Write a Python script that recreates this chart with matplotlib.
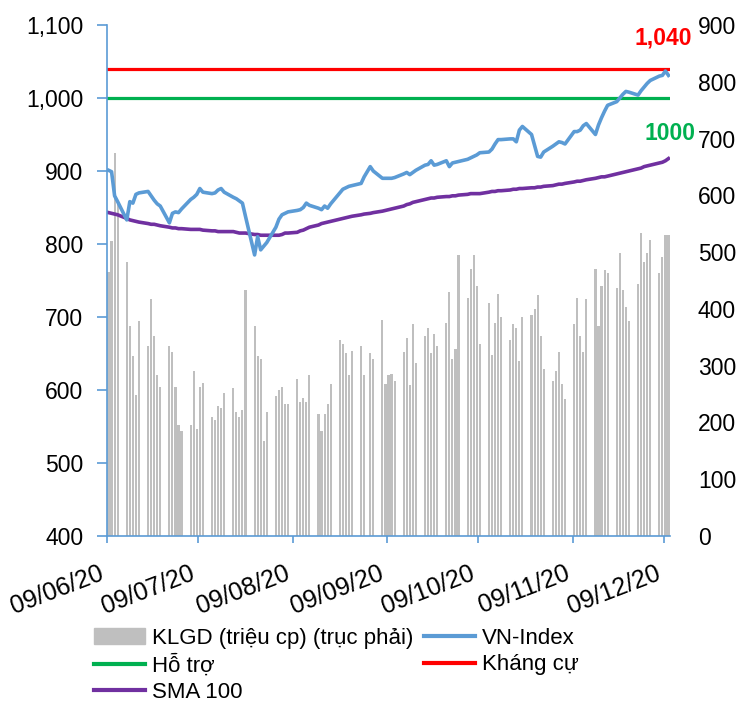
import pandas as pd
import matplotlib
matplotlib.use("Agg")
import matplotlib.pyplot as plt
import matplotlib.dates as mdates
from matplotlib.ticker import FuncFormatter, MultipleLocator
from matplotlib.patches import Patch
from matplotlib.lines import Line2D

plt.rcParams["font.family"] = ["Liberation Sans", "DejaVu Sans"]

# trading days 09/06/2020 -> 10/12/2020 (02/09 market holiday)
days = pd.bdate_range("2020-06-09", "2020-12-10")
days = days[days != pd.Timestamp("2020-09-02")]

# KLGD, million shares (right axis)
volume = [
    465, 519, 674, 590, 482, 369, 317, 249, 379, 334, 417, 352, 283, 263, 334, 324,
    263, 195, 185, 195, 290, 188, 263, 270, 209, 205, 229, 225, 252, 260, 219, 209,
    222, 434, 370, 317, 311, 167, 219,
    246, 257, 263, 232, 232, 276, 236, 243, 236, 283, 215, 185, 215, 232, 267, 345,
    338, 322, 283, 326, 335,
    283, 322, 312, 380, 268, 283, 286, 273, 324, 348, 266, 373, 304, 352, 366, 322,
    356, 334, 376, 430, 311,
    330, 495, 420, 471, 495, 440, 338, 410, 319, 376, 427, 386, 345, 373, 366, 308,
    386, 389, 400, 424, 352, 294,
    273, 290, 324, 267, 242, 373, 420, 352, 324, 417, 471, 370, 441, 468, 464, 437,
    499, 434, 404, 379, 444,
    533, 482, 499, 522, 464, 492, 530, 530,
]

vnindex = [
    901, 899, 866, 858, 833, 858, 856, 868, 870, 872, 866, 860, 855, 852, 829, 842,
    844, 843, 848, 861, 864, 868, 876, 871, 869, 870, 874, 876, 871, 864, 862, 859,
    856, 838, 785, 810, 792, 797, 802,
    823, 834, 840, 842, 844, 846, 847, 850, 856, 853, 849, 847, 852, 849, 855, 870,
    875, 877, 879, 880, 883,
    892, 906, 900, 890, 890, 890, 890, 891, 896, 898, 895, 898, 901, 908, 909, 914,
    908, 909, 914, 906, 911,
    912, 913, 916, 918, 920, 922, 925, 926, 930, 937, 943, 943, 944, 944, 940, 956,
    961, 950, 935, 920, 919, 926,
    934, 937, 940, 939, 937, 954, 954, 956, 962, 965, 950, 963, 973, 982, 990, 995,
    1000, 1005, 1009, 1008, 1004,
    1010, 1015, 1020, 1024, 1030, 1031, 1037, 1031,
]

sma100 = [
    843, 842, 841, 840, 835, 833, 832, 831, 830, 828, 827, 827, 826, 825, 823, 822,
    822, 821, 821, 820, 820, 820, 820, 819, 818, 818, 817, 817, 817, 817, 816, 815,
    815, 815, 813, 813, 812, 812, 812,
    812, 812, 813, 815, 815, 816, 818, 819, 821, 823, 826, 828, 829, 830, 831, 834,
    835, 836, 837, 838, 840,
    841, 842, 843, 845, 846, 847, 848, 849, 852, 854, 855, 857, 858, 861, 862, 863,
    863, 864, 865, 865, 866,
    866, 867, 868, 869, 869, 869, 869, 871, 872, 872, 873, 873, 874, 875, 875, 876,
    876, 877, 877, 878, 878, 879,
    880, 881, 882, 882, 883, 885, 886, 886, 887, 888, 890, 891, 892, 892, 893, 896,
    897, 898, 899, 900, 903,
    904, 906, 907, 908, 911, 912, 914, 917,
]

support = 1000
resistance = 1040
month_ticks = ["2020-06-09", "2020-07-09", "2020-08-09", "2020-09-09",
               "2020-10-09", "2020-11-09", "2020-12-09"]

blue = "#5B9BD5"
green = "#00B050"
red = "#FF0000"
purple = "#7030A0"
grey = "#BFBFBF"

x = mdates.date2num(days) + 0.5

fig = plt.figure(figsize=(7.51, 7.04), dpi=100)
ax = fig.add_axes([107 / 751, 1 - 536 / 704, 563 / 751, 511 / 704])
axr = ax.twinx()

axr.bar(x, volume, width=0.7, color=grey, linewidth=0)
axr.set_ylim(0, 900)
axr.yaxis.set_major_locator(MultipleLocator(100))
axr.tick_params(axis="y", length=0, pad=20, labelsize=16.5)
for s in axr.spines.values():
    s.set_visible(False)

ax.set_zorder(axr.get_zorder() + 1)
ax.patch.set_visible(False)

ax.axhline(support, color=green, lw=2.3)
ax.axhline(resistance, color=red, lw=2.3)
ax.plot(x, sma100, color=purple, lw=2.6, solid_joinstyle="round")
ax.plot(x, vnindex, color=blue, lw=2.6, solid_joinstyle="round")

ax.set_ylim(400, 1100)
ax.yaxis.set_major_locator(MultipleLocator(100))
ax.yaxis.set_major_formatter(FuncFormatter(lambda v, p: f"{v:,.0f}"))
ax.set_xlim(mdates.date2num(pd.Timestamp("2020-06-09")),
            mdates.date2num(pd.Timestamp("2020-12-11")))
tick_pos = mdates.date2num(pd.to_datetime(month_ticks))
ax.set_xticks(tick_pos)
ax.set_xticklabels([pd.Timestamp(t).strftime("%d/%m/%y") for t in month_ticks],
                   rotation=21, ha="right")

for side in ["top", "right"]:
    ax.spines[side].set_visible(False)
for side in ["left", "bottom"]:
    ax.spines[side].set_color(blue)
    ax.spines[side].set_linewidth(1.2)
ax.tick_params(axis="y", direction="out", length=7, width=1.2, color=blue,
               pad=10, labelsize=16.5)
ax.tick_params(axis="x", direction="out", length=5, width=1.2, color=blue,
               pad=13, labelsize=18)

ax.text(1.039, 0.9755, "1,040", transform=ax.transAxes, ha="right", va="center",
        color=red, fontsize=16.5, fontweight="bold", clip_on=False)
ax.text(1.046, 0.787, "1000", transform=ax.transAxes, ha="right", va="center",
        color=green, fontsize=16.5, fontweight="bold", clip_on=False)

handles = [
    Patch(color=grey),
    Line2D([], [], color=green, lw=3),
    Line2D([], [], color=purple, lw=3),
    Line2D([], [], color=blue, lw=3),
    Line2D([], [], color=red, lw=3),
]
labels = ["KLGD (triệu cp) (trục phải)", "Hỗ trợ", "SMA 100", "VN-Index", "Kháng cự"]
fig.legend(handles, labels, loc="upper left", bbox_to_anchor=(94 / 751, 1 - 628 / 704),
           ncol=2, frameon=False, fontsize=16, handlelength=2.3, handletextpad=0.32,
           columnspacing=0.45, labelspacing=0.24, borderpad=0, borderaxespad=0)

fig.savefig("out.png", dpi=100)
